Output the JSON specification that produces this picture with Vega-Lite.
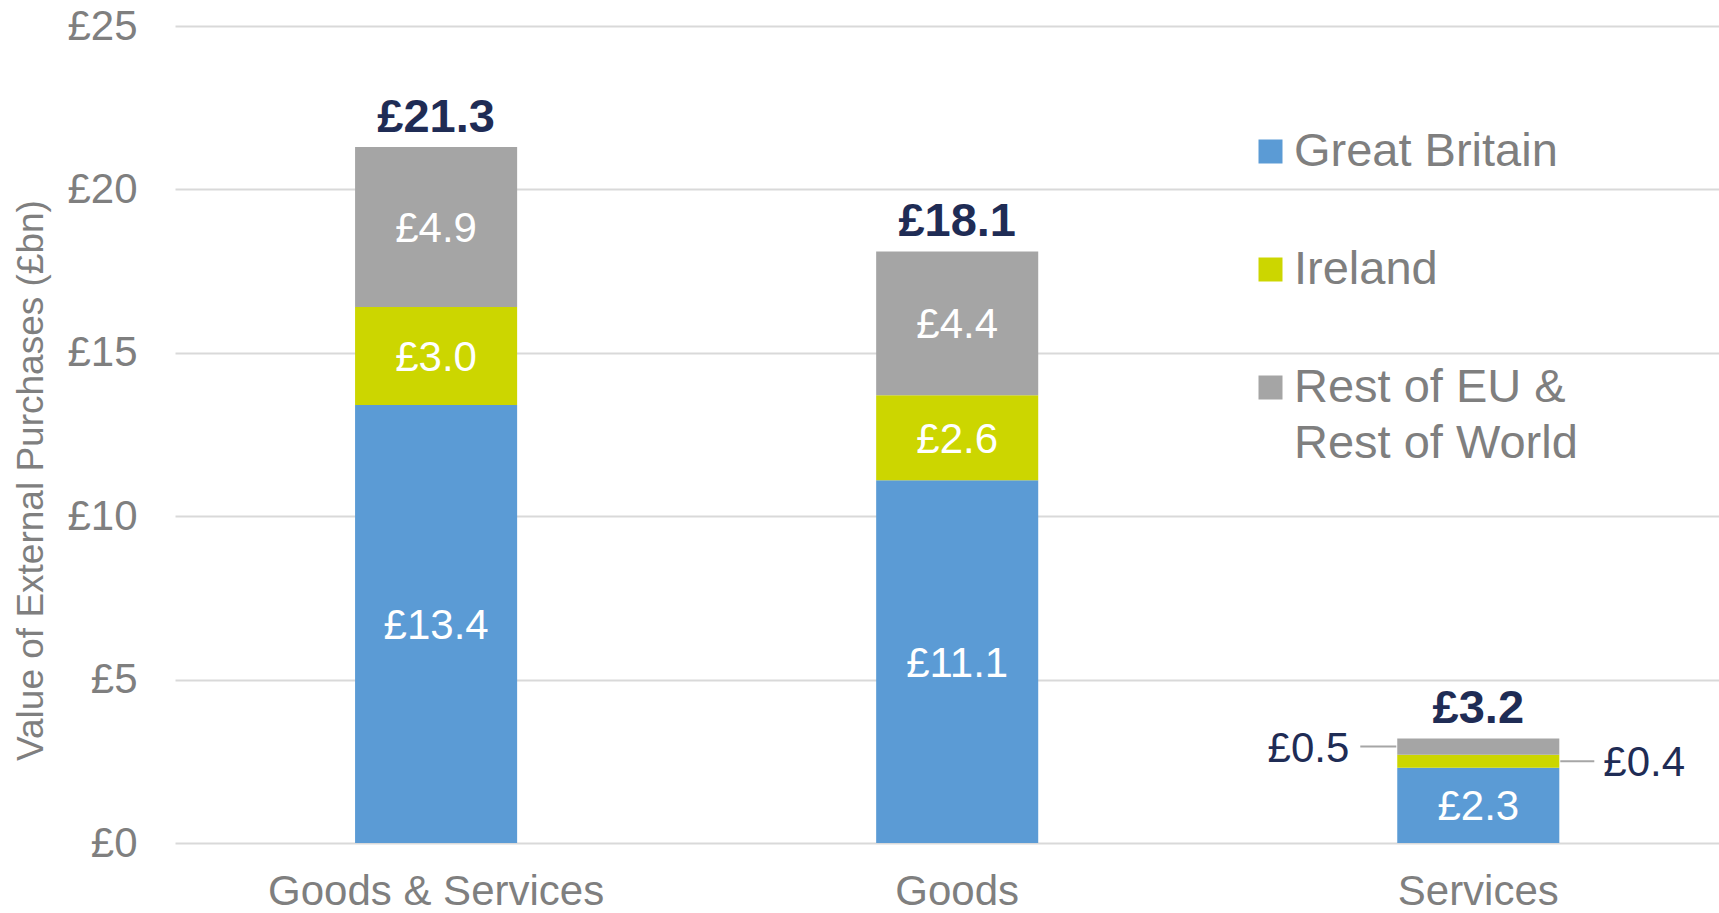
{
  "$schema": "https://vega.github.io/schema/vega-lite/v6.json",
  "width": 1544,
  "height": 817,
  "autosize": {"type": "none"},
  "padding": {"left": 175, "top": 26, "right": 0, "bottom": 70},
  "background": "white",
  "config": {
    "font": "Liberation Sans",
    "view": {"stroke": null},
    "locale": {"number": {"decimal": ".", "thousands": ",", "grouping": [3], "currency": ["£", ""]}},
    "style": {"guide-label": {"lineHeight": 56}}
  },
  "data": {
    "values": [
      {"category": "Goods & Services", "series": "Great Britain", "value": 13.4},
      {"category": "Goods & Services", "series": "Ireland", "value": 3.0},
      {"category": "Goods & Services", "series": "Rest of EU & Rest of World", "value": 4.9},
      {"category": "Goods", "series": "Great Britain", "value": 11.1},
      {"category": "Goods", "series": "Ireland", "value": 2.6},
      {"category": "Goods", "series": "Rest of EU & Rest of World", "value": 4.4},
      {"category": "Services", "series": "Great Britain", "value": 2.3},
      {"category": "Services", "series": "Ireland", "value": 0.4},
      {"category": "Services", "series": "Rest of EU & Rest of World", "value": 0.5}
    ]
  },
  "transform": [
    {"stack": "value", "groupby": ["category"], "sort": [{"field": "series", "order": "ascending"}], "as": ["y0", "y1"]}
  ],
  "encoding": {
    "x": {
      "field": "category",
      "type": "nominal",
      "sort": ["Goods & Services", "Goods", "Services"],
      "scale": {"paddingInner": 0.689, "paddingOuter": 0.326, "align": 0.53},
      "axis": {
        "title": null,
        "labelAngle": 0,
        "labelFontSize": 42,
        "labelColor": "#7F7F7F",
        "labelPadding": 28,
        "labelLimit": 0,
        "ticks": false,
        "domain": false,
        "grid": false
      }
    }
  },
  "layer": [
    {
      "mark": {"type": "bar"},
      "encoding": {
        "y": {
          "field": "y1",
          "type": "quantitative",
          "scale": {"domain": [0, 25], "nice": false, "zero": true},
          "axis": {
            "values": [0, 5, 10, 15, 20, 25],
            "format": "$,.0f",
            "labelFontSize": 42,
            "labelColor": "#7F7F7F",
            "labelPadding": 38,
            "ticks": false,
            "domain": false,
            "grid": true,
            "gridColor": "#D9D9D9",
            "gridWidth": 2,
            "title": "Value of External Purchases (£bn)",
            "titleFontSize": 37,
            "titleFontWeight": "normal",
            "titleColor": "#7F7F7F",
            "titleAngle": -90,
            "titleX": -144,
            "titleY": 454,
            "titleAlign": "center",
            "titleBaseline": "middle"
          }
        },
        "y2": {"field": "y0"},
        "color": {
          "field": "series",
          "type": "nominal",
          "scale": {
            "domain": ["Great Britain", "Ireland", "Rest of EU & Rest of World"],
            "range": ["#5B9BD5", "#CCD600", "#A5A5A5"]
          },
          "legend": {
            "orient": "none",
            "legendX": 1072,
            "legendY": 102,
            "padding": 0,
            "title": null,
            "symbolType": "square",
            "symbolSize": 576,
            "symbolStrokeWidth": 0,
            "labelFontSize": 47,
            "labelColor": "#7F7F7F",
            "labelOffset": 0,
            "labelLimit": 0,
            "rowPadding": 70,
            "labelExpr": "datum.label == 'Rest of EU & Rest of World' ? ['Rest of EU &', 'Rest of World'] : datum.label"
          }
        }
      }
    },
    {
      "transform": [
        {"filter": "datum.category != 'Services' || datum.series == 'Great Britain'"},
        {"fold": ["y0", "y1"], "as": ["k", "v"]}
      ],
      "mark": {"type": "text", "color": "white", "fontSize": 42, "baseline": "middle", "dy": 2},
      "encoding": {
        "y": {"field": "v", "type": "quantitative", "aggregate": "mean"},
        "text": {"field": "value", "type": "quantitative", "format": "$.1f"},
        "detail": {"field": "series"}
      }
    },
    {
      "mark": {"type": "text", "color": "#1F2C55", "fontSize": 47, "fontWeight": "bold", "baseline": "middle", "dy": -29},
      "encoding": {
        "y": {"field": "value", "type": "quantitative", "aggregate": "sum"},
        "text": {"field": "value", "type": "quantitative", "aggregate": "sum", "format": "$.1f"}
      }
    },
    {
      "transform": [
        {"filter": "datum.category == 'Services' && datum.series != 'Great Britain'"},
        {"fold": ["y0", "y1"], "as": ["k", "v"]}
      ],
      "layer": [
        {
          "transform": [{"filter": "datum.series == 'Rest of EU & Rest of World'"}],
          "mark": {"type": "tick", "orient": "horizontal", "size": 36, "thickness": 2, "xOffset": -100, "color": "#A6A6A6"},
          "encoding": {
            "y": {"field": "v", "type": "quantitative", "aggregate": "mean"}
          }
        },
        {
          "transform": [{"filter": "datum.series == 'Rest of EU & Rest of World'"}],
          "mark": {"type": "text", "color": "#1F2C55", "fontSize": 42, "baseline": "middle", "align": "right", "dx": -129, "dy": 2},
          "encoding": {
            "y": {"field": "v", "type": "quantitative", "aggregate": "mean"},
            "text": {"field": "value", "type": "quantitative", "format": "$.1f"}
          }
        },
        {
          "transform": [{"filter": "datum.series == 'Ireland'"}],
          "mark": {"type": "tick", "orient": "horizontal", "size": 34, "thickness": 2, "xOffset": 99, "color": "#A6A6A6"},
          "encoding": {
            "y": {"field": "v", "type": "quantitative", "aggregate": "mean"}
          }
        },
        {
          "transform": [{"filter": "datum.series == 'Ireland'"}],
          "mark": {"type": "text", "color": "#1F2C55", "fontSize": 42, "baseline": "middle", "align": "left", "dx": 125, "dy": 2},
          "encoding": {
            "y": {"field": "v", "type": "quantitative", "aggregate": "mean"},
            "text": {"field": "value", "type": "quantitative", "format": "$.1f"}
          }
        }
      ]
    }
  ]
}
